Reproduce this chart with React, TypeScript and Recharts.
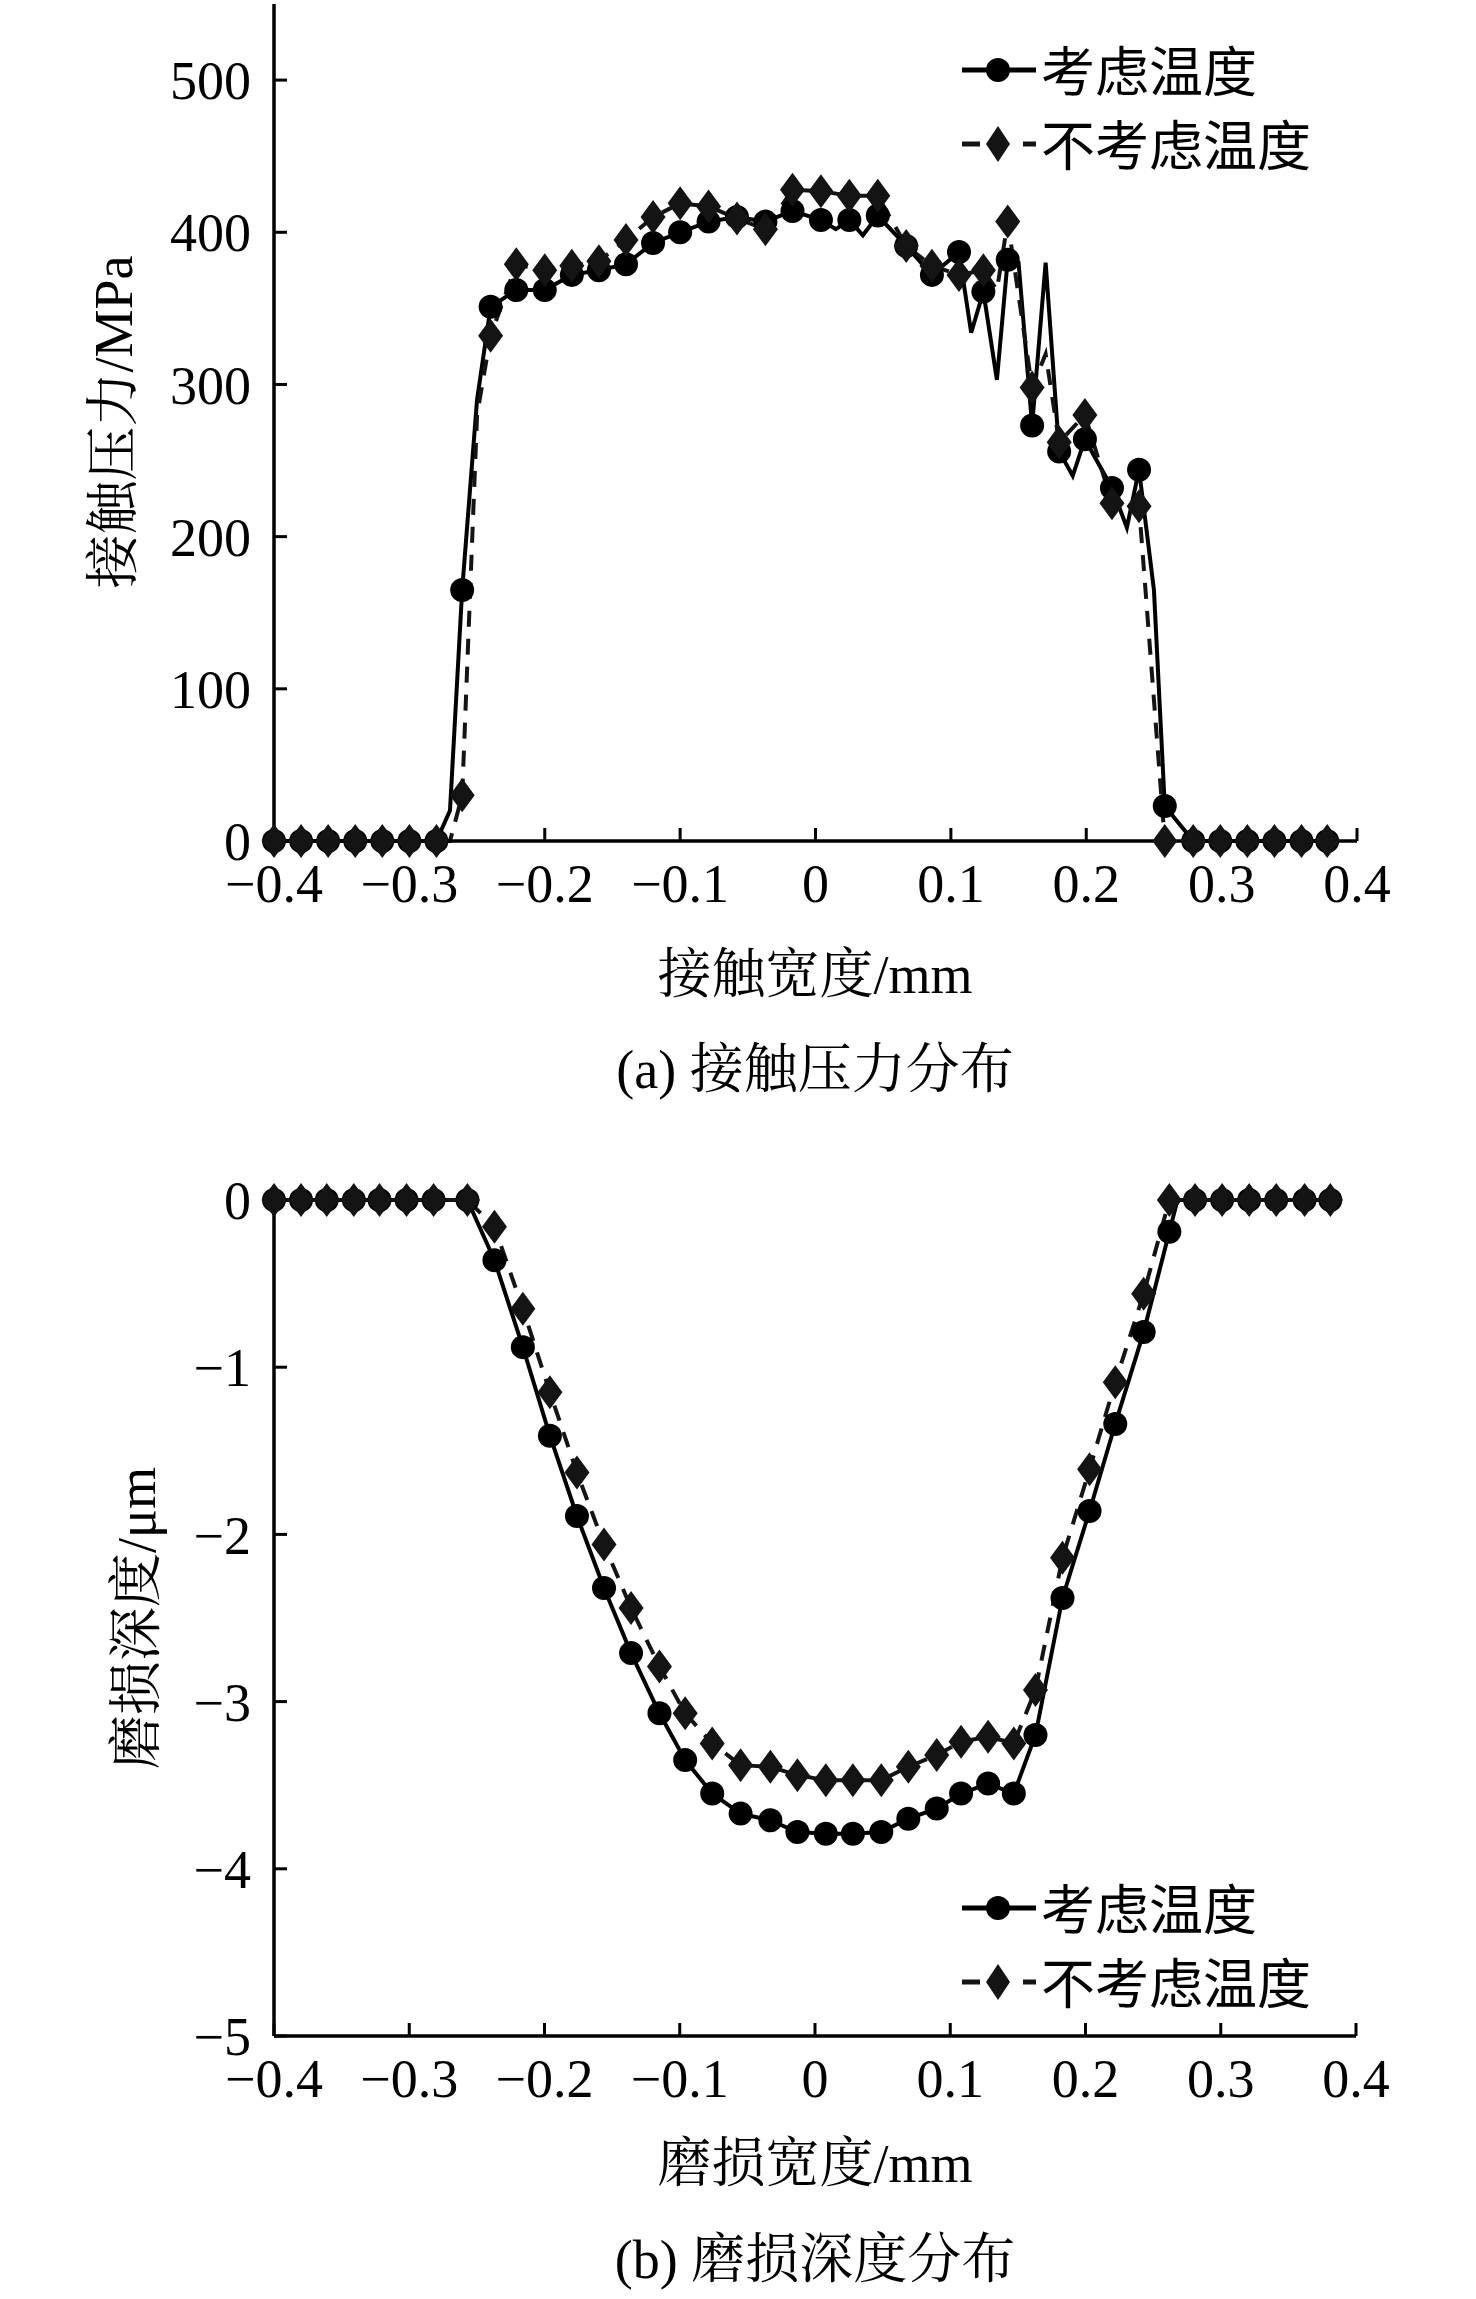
import React from "react";
import { LineChart, Line, XAxis, YAxis } from "recharts";

// x positions of the markers (mm)
const pressX = [-0.4, -0.38, -0.36, -0.34, -0.32, -0.3, -0.28, -0.261, -0.24, -0.221, -0.2, -0.18, -0.16, -0.14, -0.12, -0.1, -0.079, -0.058, -0.037, -0.017, 0.004, 0.025, 0.046, 0.067, 0.086, 0.106, 0.124, 0.142, 0.16, 0.18, 0.199, 0.219, 0.239, 0.258, 0.279, 0.299, 0.319, 0.339, 0.359, 0.378];
const pressWithTemp = [0, 0, 0, 0, 0, 0, 0, 165, 351, 362, 362, 372, 375, 379, 393, 400, 407, 410, 407, 414, 408, 408, 411, 391, 372, 387, 361, 382, 273, 256, 264, 232, 244, 23, 0, 0, 0, 0, 0, 0];
const pressNoTemp = [0, 0, 0, 0, 0, 0, 0, 30, 332, 379, 375, 378, 381, 395, 410, 419, 417, 409, 402, 428, 427, 424, 424, 391, 378, 372, 375, 407, 298, 262, 280, 222, 220, 0, 0, 0, 0, 0, 0, 0];
// line vertices between markers
const pressWithTempExtra = [[-0.27, 20], [-0.25, 290], [0.015, 402], [0.035, 398], [0.115, 334], [0.134, 303], [0.15, 380], [0.17, 380], [0.19, 240], [0.23, 206], [0.25, 165]];
const pressNoTempExtra = [[-0.27, 0], [-0.25, 280], [0.134, 362], [0.17, 320]];

const wearX = [-0.4, -0.38, -0.361, -0.341, -0.322, -0.302, -0.282, -0.257, -0.237, -0.216, -0.196, -0.176, -0.156, -0.136, -0.115, -0.096, -0.076, -0.055, -0.033, -0.013, 0.008, 0.028, 0.049, 0.069, 0.09, 0.108, 0.128, 0.147, 0.163, 0.183, 0.203, 0.222, 0.243, 0.262, 0.281, 0.301, 0.321, 0.341, 0.362, 0.381];
const wearWithTemp = [0, 0, 0, 0, 0, 0, 0, 0, -0.36, -0.88, -1.41, -1.89, -2.32, -2.71, -3.07, -3.35, -3.55, -3.67, -3.71, -3.78, -3.79, -3.79, -3.78, -3.7, -3.64, -3.55, -3.49, -3.55, -3.2, -2.38, -1.86, -1.34, -0.79, -0.19, 0, 0, 0, 0, 0, 0];
const wearNoTemp = [0, 0, 0, 0, 0, 0, 0, 0, -0.16, -0.65, -1.15, -1.63, -2.06, -2.44, -2.79, -3.07, -3.25, -3.38, -3.39, -3.44, -3.47, -3.47, -3.47, -3.39, -3.32, -3.24, -3.21, -3.25, -2.93, -2.14, -1.61, -1.09, -0.56, 0, 0, 0, 0, 0, 0, 0];
const wearWithTempExtra = [[0.268, 0]];
const wearNoTempExtra: number[][] = [];

const xTicks = [-0.4, -0.3, -0.2, -0.1, 0, 0.1, 0.2, 0.3, 0.4];
const pressTicks = [0, 100, 200, 300, 400, 500];
const wearTicks = [-5, -4, -3, -2, -1, 0];
const seriesNames = ["考虑温度", "不考虑温度"];

const FONT = '"Liberation Serif", "Times New Roman", "Noto Serif CJK SC", "Noto Sans CJK SC", serif';
const CJK = '"Noto Sans CJK SC", "Liberation Serif", serif';

const build = (xs: number[], ys: number[], extra: number[][]) =>
  xs
    .map((x, i) => ({ x, y: ys[i], m: true }))
    .concat(extra.map(([x, y]) => ({ x, y, m: false })))
    .sort((a, b) => a.x - b.x);

const minus = (s: string) => s.replace("-", "\u2212");
const fmtX = (v: number) => (v === 0 ? "0" : minus(v.toFixed(1)));
const fmtY = (v: number) => minus(String(v));

const CircleDot = (props: any) => {
  const { cx, cy, payload, index } = props;
  if (!payload?.m || cx == null) return <g key={`c-${index}`} />;
  return <circle key={`c-${index}`} cx={cx} cy={cy} r={12} fill="#000" />;
};

const DiamondDot = (props: any) => {
  const { cx, cy, payload, index } = props;
  if (!payload?.m || cx == null) return <g key={`d-${index}`} />;
  return (
    <polygon
      key={`d-${index}`}
      points={`${cx},${cy - 17} ${cx + 12.5},${cy} ${cx},${cy + 17} ${cx - 12.5},${cy}`}
      fill="#141414"
    />
  );
};

const axisLine = { stroke: "#000", strokeWidth: 3.5 };
const tickLine = { stroke: "#000", strokeWidth: 3 };
const tickStyle = { fill: "#000", fontSize: 54, fontFamily: FONT };

const Panel: React.FC<{
  top: number;
  marginTop: number;
  marginBottom: number;
  marginRight: number;
  yDomain: number[];
  yTicks: number[];
  a: { x: number; y: number; m: boolean }[];
  b: { x: number; y: number; m: boolean }[];
}> = ({ top, marginTop, marginBottom, marginRight, yDomain, yTicks, a, b }) => (
  <div style={{ position: "absolute", left: 0, top }}>
    <LineChart
      width={1476}
      height={1000}
      margin={{ top: marginTop, right: marginRight, bottom: marginBottom, left: 174 }}
    >
      <XAxis
        dataKey="x"
        type="number"
        domain={[-0.4, 0.4]}
        ticks={xTicks}
        tickFormatter={fmtX}
        height={60}
        axisLine={axisLine}
        tickLine={tickLine}
        tickSize={-13}
        tickMargin={36}
        tick={tickStyle}
        interval={0}
      />
      <XAxis
        xAxisId="top"
        orientation="top"
        dataKey="x"
        type="number"
        domain={[-0.4, 0.4]}
        ticks={xTicks}
        tickFormatter={() => ""}
        height={0}
        axisLine={axisLine}
        tickLine={tickLine}
        tickSize={-13}
        interval={0}
      />
      <YAxis
        type="number"
        domain={yDomain}
        ticks={yTicks}
        tickFormatter={fmtY}
        width={100}
        axisLine={axisLine}
        tickLine={tickLine}
        tickSize={-13}
        tickMargin={36}
        tick={tickStyle}
        interval={0}
      />
      <YAxis
        yAxisId="right"
        orientation="right"
        type="number"
        domain={yDomain}
        ticks={yTicks}
        tickFormatter={() => ""}
        width={0}
        axisLine={axisLine}
        tickLine={tickLine}
        tickSize={-13}
        interval={0}
      />
      <Line
        data={a}
        dataKey="y"
        type="linear"
        stroke="#000"
        strokeWidth={4}
        dot={CircleDot}
        activeDot={false}
        isAnimationActive={false}
      />
      <Line
        data={b}
        dataKey="y"
        type="linear"
        stroke="#141414"
        strokeWidth={4}
        strokeDasharray="16 12"
        dot={DiamondDot}
        activeDot={false}
        isAnimationActive={false}
      />
    </LineChart>
  </div>
);

const LegendBox: React.FC<{ y: number }> = ({ y }) => (
  <g>
    <line x1={962} x2={1036} y1={y} y2={y} stroke="#000" strokeWidth={5} />
    <circle cx={998} cy={y} r={12} fill="#000" />
    <text x={1041} y={y - 2} fontSize={54} fontFamily={CJK} dominantBaseline="central" fill="#000">
      {seriesNames[0]}
    </text>
    <line x1={962} x2={980} y1={y + 74} y2={y + 74} stroke="#141414" strokeWidth={5} />
    <line x1={1023} x2={1036} y1={y + 74} y2={y + 74} stroke="#141414" strokeWidth={5} />
    <polygon
      points={`998,${y + 74 - 18} 1010,${y + 74} 998,${y + 74 + 18} 986,${y + 74}`}
      fill="#141414"
    />
    <text x={1041} y={y + 72} fontSize={54} fontFamily={CJK} dominantBaseline="central" fill="#000">
      {seriesNames[1]}
    </text>
  </g>
);

const Title: React.FC<{ x: number; y: number; rotate?: boolean; children: React.ReactNode }> = ({ x, y, rotate, children }) => (
  <text
    x={x}
    y={y}
    fontSize={54}
    fontFamily={FONT}
    textAnchor="middle"
    dominantBaseline="central"
    fill="#000"
    transform={rotate ? `rotate(-90 ${x} ${y})` : undefined}
  >
    {children}
  </text>
);

export default function App() {
  const pa = build(pressX, pressWithTemp, pressWithTempExtra);
  const pb = build(pressX, pressNoTemp, pressNoTempExtra);
  const wa = build(wearX, wearWithTemp, wearWithTempExtra);
  const wb = build(wearX, wearNoTemp, wearNoTempExtra);
  return (
    <div style={{ position: "absolute", left: 0, top: 0, width: 1476, height: 2299, background: "#fff" }}>
      <Panel top={0} marginTop={4} marginBottom={99} marginRight={119} yDomain={[0, 550]} yTicks={pressTicks} a={pa} b={pb} />
      <Panel top={1150} marginTop={50} marginBottom={54} marginRight={120} yDomain={[-5, 0]} yTicks={wearTicks} a={wa} b={wb} />
      <svg width={1476} height={2299} style={{ position: "absolute", left: 0, top: 0, pointerEvents: "none" }}>
        <LegendBox y={70} />
        <LegendBox y={1908} />
        <Title x={114} y={422} rotate>接触压力/MPa</Title>
        <Title x={815} y={975}>接触宽度/mm</Title>
        <Title x={815} y={1070}>(a) 接触压力分布</Title>
        <Title x={137} y={1618} rotate>磨损深度/μm</Title>
        <Title x={815} y={2164}>磨损宽度/mm</Title>
        <Title x={815} y={2260}>(b) 磨损深度分布</Title>
      </svg>
    </div>
  );
}
